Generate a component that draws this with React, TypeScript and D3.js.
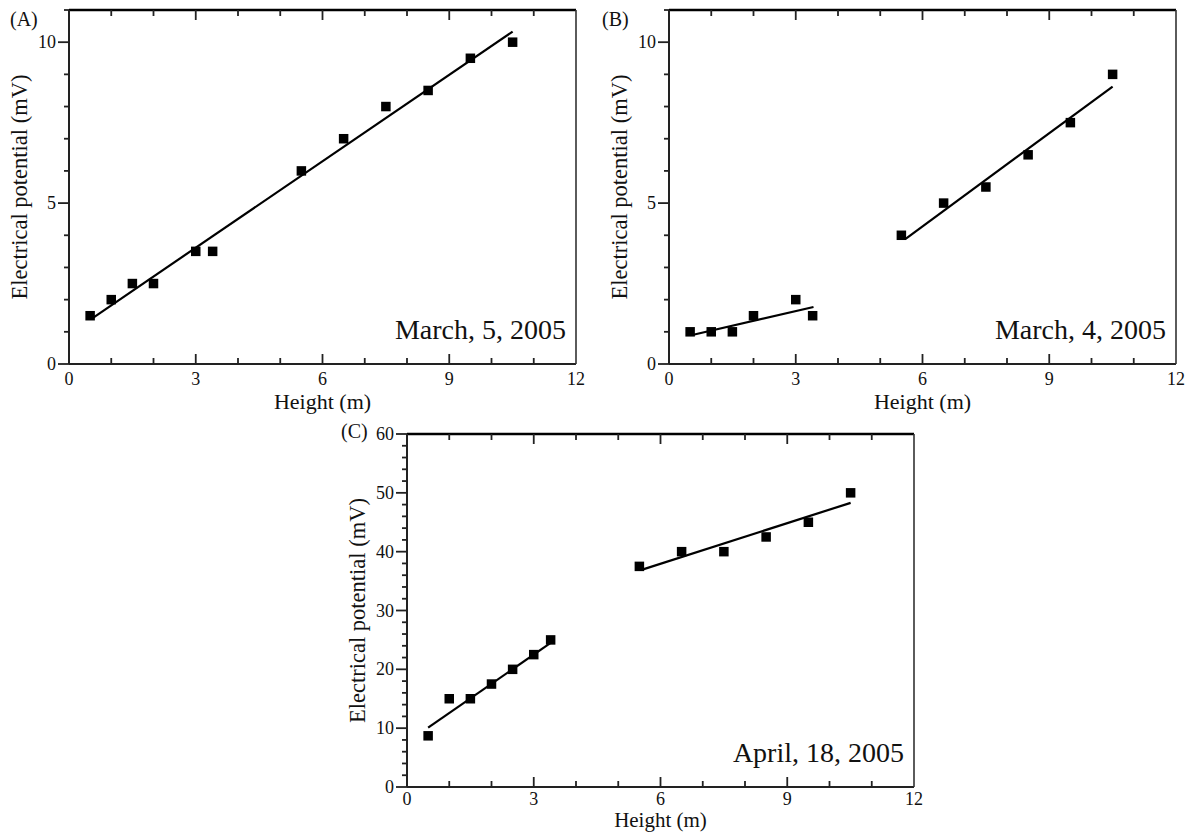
import React from "react";
import * as d3 from "d3";

// ---- data ----
const heightsA = [0.5, 1, 1.5, 2, 3, 3.4, 5.5, 6.5, 7.5, 8.5, 9.5, 10.5];
const potentialA = [1.5, 2, 2.5, 2.5, 3.5, 3.5, 6, 7, 8, 8.5, 9.5, 10];
const fitAx = [0.55, 10.5];
const fitAy = [1.42, 10.33];

const heightsB = [0.5, 1, 1.5, 2, 3, 3.4, 5.5, 6.5, 7.5, 8.5, 9.5, 10.5];
const potentialB = [1, 1, 1, 1.5, 2, 1.5, 4, 5, 5.5, 6.5, 7.5, 9];
const fitB1x = [0.55, 3.42];
const fitB1y = [0.9, 1.77];
const fitB2x = [5.6, 10.5];
const fitB2y = [3.89, 8.62];

const heightsC = [0.5, 1, 1.5, 2, 2.5, 3, 3.4, 5.5, 6.5, 7.5, 8.5, 9.5, 10.5];
const potentialC = [8.7, 15, 15, 17.5, 20, 22.5, 25, 37.5, 40, 40, 42.5, 45, 50];
const fitC1x = [0.5, 3.4];
const fitC1y = [10.1, 24.5];
const fitC2x = [5.55, 10.5];
const fitC2y = [36.9, 48.3];

const xTickLabels = [0, 3, 6, 9, 12];
const yTickLabelsAB = [0, 5, 10];
const yTickLabelsC = [0, 10, 20, 30, 40, 50, 60];

const FONT = "'Liberation Serif', 'Times New Roman', serif";

type PanelProps = {
  left: number;
  top: number;
  right: number;
  bottom: number;
  yMax: number;
  yMinorStep: number;
  yLabels: number[];
  xs: number[];
  ys: number[];
  fits: { x: number[]; y: number[] }[];
  date: string;
  tickOff: number;
  titleOff: number;
  titleSize: number;
};

function Panel(p: PanelProps) {
  const x = d3.scaleLinear().domain([0, 12]).range([p.left, p.right]);
  const y = d3.scaleLinear().domain([0, p.yMax]).range([p.bottom, p.top]);
  const xMinor = d3.range(0, 12.001, 1);
  const yMinor = d3.range(0, p.yMax + 0.001, p.yMinorStep);
  const line = d3
    .line<[number, number]>()
    .x((d) => x(d[0]))
    .y((d) => y(d[1]));
  const sq = 9.5;
  return (
    <g fontFamily={FONT} fill="#111">
      {/* frame */}
      <line x1={p.left} x2={p.right} y1={p.top} y2={p.top} stroke="#000" strokeWidth={2.4} />
      <line x1={p.left} x2={p.right} y1={p.bottom} y2={p.bottom} stroke="#222" strokeWidth={2} />
      <line x1={p.left} x2={p.left} y1={p.top} y2={p.bottom} stroke="#222" strokeWidth={2} />
      <line x1={p.right} x2={p.right} y1={p.top} y2={p.bottom} stroke="#333" strokeWidth={1.6} />
      {/* x ticks, inward top and bottom */}
      {xMinor.map((v) => {
        const major = v % 3 === 0;
        const len = major ? 10 : 6;
        if (v === 0 || v === 12) return null;
        return (
          <g key={"xt" + v}>
            <line x1={x(v)} x2={x(v)} y1={p.bottom} y2={p.bottom - len} stroke="#222" strokeWidth={1.8} />
            <line x1={x(v)} x2={x(v)} y1={p.top} y2={p.top + len} stroke="#222" strokeWidth={1.8} />
          </g>
        );
      })}
      {xTickLabels.map((v) => (
        <text key={"xl" + v} x={x(v)} y={p.bottom + p.tickOff} fontSize={18} textAnchor="middle">
          {v}
        </text>
      ))}
      {/* y ticks, outward */}
      {yMinor.map((v) => {
        const major = p.yLabels.includes(v);
        const len = major ? 11 : 5;
        return (
          <line key={"yt" + v} x1={p.left - len} x2={p.left} y1={y(v)} y2={y(v)} stroke="#222" strokeWidth={1.8} />
        );
      })}
      {p.yLabels.map((v) => (
        <text key={"yl" + v} x={p.left - 13} y={y(v) + 6} fontSize={18} textAnchor="end">
          {v}
        </text>
      ))}
      {/* axis titles */}
      <text x={(p.left + p.right) / 2} y={p.bottom + p.titleOff} fontSize={p.titleSize} textAnchor="middle">
        Height (m)
      </text>
      <text
        transform={`translate(${p.left - 42},${(p.top + p.bottom) / 2}) rotate(-90)`}
        fontSize={22.5}
        textAnchor="middle"
      >
        Electrical potential (mV)
      </text>
      {/* fits */}
      {p.fits.map((f, i) => (
        <path
          key={"f" + i}
          d={line(f.x.map((xv, j) => [xv, f.y[j]] as [number, number])) || ""}
          fill="none"
          stroke="#000"
          strokeWidth={2.2}
        />
      ))}
      {/* points */}
      {p.xs.map((xv, i) => (
        <rect key={"p" + i} x={x(xv) - sq / 2} y={y(p.ys[i]) - sq / 2} width={sq} height={sq} fill="#000" />
      ))}
      {/* date */}
      <text x={p.right - 10} y={p.bottom - 25} fontSize={28} textAnchor="end">
        {p.date}
      </text>
    </g>
  );
}

export default function App() {
  return (
    <svg
      width={1196}
      height={833}
      style={{ position: "absolute", left: 0, top: 0, display: "block", background: "#fff" }}
    >
      <rect width={1196} height={833} fill="#fff" />
      <Panel
        left={69}
        top={10}
        right={576}
        bottom={364}
        yMax={11}
        yMinorStep={1}
        yLabels={yTickLabelsAB}
        xs={heightsA}
        ys={potentialA}
        fits={[{ x: fitAx, y: fitAy }]}
        date="March, 5, 2005"
        tickOff={21}
        titleOff={45}
        titleSize={22}
      />
      <Panel
        left={669}
        top={10}
        right={1176}
        bottom={364}
        yMax={11}
        yMinorStep={1}
        yLabels={yTickLabelsAB}
        xs={heightsB}
        ys={potentialB}
        fits={[
          { x: fitB1x, y: fitB1y },
          { x: fitB2x, y: fitB2y },
        ]}
        date="March, 4, 2005"
        tickOff={21}
        titleOff={45}
        titleSize={22}
      />
      <Panel
        left={407}
        top={434}
        right={914}
        bottom={787}
        yMax={60}
        yMinorStep={2}
        yLabels={yTickLabelsC}
        xs={heightsC}
        ys={potentialC}
        fits={[
          { x: fitC1x, y: fitC1y },
          { x: fitC2x, y: fitC2y },
        ]}
        date="April, 18, 2005"
        tickOff={17.5}
        titleOff={40}
        titleSize={21}
      />
      <g fontFamily={FONT} fontSize={20} fill="#111">
        <text x={10} y={26}>(A)</text>
        <text x={602} y={26}>(B)</text>
        <text x={341} y={438}>(C)</text>
      </g>
    </svg>
  );
}
